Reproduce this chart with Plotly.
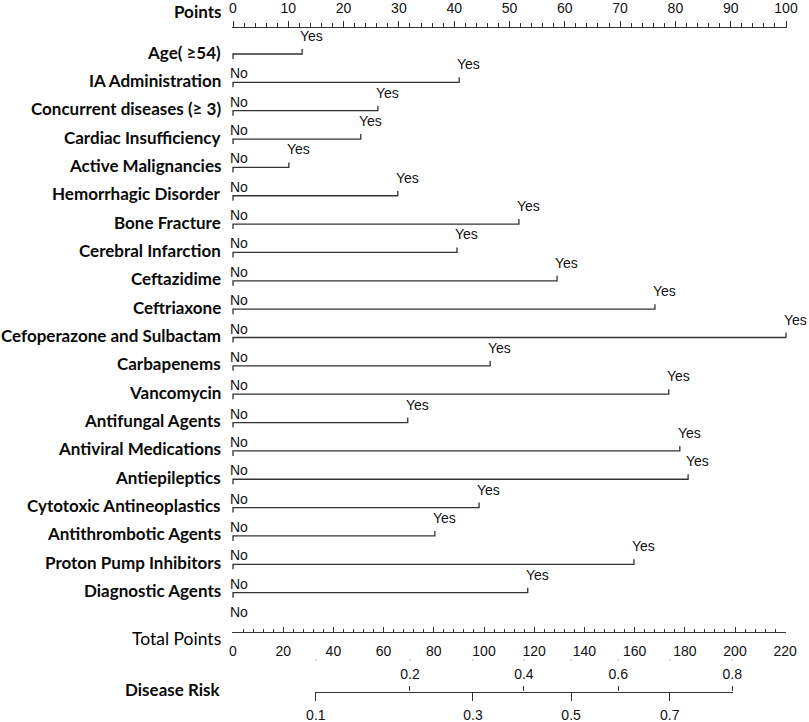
import plotly.graph_objects as go

# ---------------- data ----------------
variables = ["Age( ≥54)", "IA Administration", "Concurrent diseases (≥ 3)", "Cardiac Insufficiency",
             "Active Malignancies", "Hemorrhagic Disorder", "Bone Fracture", "Cerebral Infarction",
             "Ceftazidime", "Ceftriaxone", "Cefoperazone and Sulbactam", "Carbapenems", "Vancomycin",
             "Antifungal Agents", "Antiviral Medications", "Antiepileptics", "Cytotoxic Antineoplastics",
             "Antithrombotic Agents", "Proton Pump Inhibitors", "Diagnostic Agents"]
yes_points = [12.5, 40.9, 26.2, 23.1, 10.1, 29.8, 51.7, 40.5, 58.6, 76.3, 100.0, 46.5, 78.8,
              31.6, 80.8, 82.3, 44.5, 36.5, 72.5, 53.3]
no_label, yes_label = "No", "Yes"

points_max = 100
points_major = 10
points_minor = 2
total_max = 220
total_major = 20
total_minor = 4
risk_labels = ["0.1", "0.2", "0.3", "0.4", "0.5", "0.6", "0.7", "0.8"]
risk_total_points = [33.0, 70.5, 95.6, 115.9, 134.7, 153.5, 174.0, 198.9]

# ---------------- geometry (pixels) ----------------
W, H = 809, 722
X0 = 233.0          # pixel of 0 points
PT = 5.53           # px per point
TP = 2.51           # px per total point
ROW0 = 54.0         # pixel of first row line
STEP = 28.35        # row spacing
LINE = "#333333"
NUMFONT = dict(family="Liberation Sans, Arial, sans-serif", size=14, color="#111")
LABFONT = dict(family="Lato, Noto Sans, sans-serif", size=17, color="#0a0a0a", weight="bold")

def paper_y(px):
    return 1 - px / H

n = len(variables)
y_range = [(H - ROW0) / STEP, -ROW0 / STEP]
tick_dn = 5 / STEP
tick_up = 5 / STEP

fig = go.Figure()

# row segments
xs, ys = [], []
for i, v in enumerate(yes_points):
    xs += [0, 0, v, v, None]
    ys += [i + tick_dn, i, i, i - tick_up, None]
fig.add_trace(go.Scatter(x=xs, y=ys, mode="lines", line=dict(color=LINE, width=1.3),
                         xaxis="x", yaxis="y", hoverinfo="skip", showlegend=False))

# faint marks below total points labels
fig.add_trace(go.Scatter(x=risk_total_points, y=[(660 - ROW0) / STEP] * len(risk_total_points),
                         mode="markers", marker=dict(size=2, color="#cfcfcf"),
                         xaxis="x2", yaxis="y", hoverinfo="skip", showlegend=False))
# anchor traces for risk axes
for ax in ["x3", "x4"]:
    fig.add_trace(go.Scatter(x=[risk_total_points[0]], y=[0], mode="markers",
                             marker=dict(opacity=0), xaxis=ax, yaxis="y",
                             hoverinfo="skip", showlegend=False))

ann = []
for i, (name, v) in enumerate(zip(variables, yes_points)):
    ann.append(dict(x=0, y=i, xref="x", yref="y", text=name, showarrow=False,
                    xanchor="right", yanchor="middle", xshift=-10, yshift=2, font=LABFONT))
    ann.append(dict(x=v, y=i, xref="x", yref="y", text=yes_label, showarrow=False,
                    xanchor="left", yanchor="middle", xshift=-4, yshift=18, font=NUMFONT))
for i in range(1, n + 1):
    ann.append(dict(x=0, y=i, xref="x", yref="y", text=no_label, showarrow=False,
                    xanchor="left", yanchor="middle", xshift=-5, yshift=9, font=NUMFONT))

ann.append(dict(x=0, y=paper_y(12), xref="x", yref="paper", text="Points", showarrow=False,
                xanchor="right", yanchor="middle", xshift=-10, font=LABFONT))
ann.append(dict(x=0, y=paper_y(638), xref="x", yref="paper", text="Total Points", showarrow=False,
                xanchor="right", yanchor="middle", xshift=-10,
                font=dict(family="Lato, Noto Sans, sans-serif", size=17.5, color="#000", weight="normal")))
ann.append(dict(x=0, y=paper_y(689), xref="x", yref="paper", text="Disease Risk", showarrow=False,
                xanchor="right", yanchor="middle", xshift=-10, font=LABFONT))

pad = 1.0
common = dict(showgrid=False, zeroline=False, showline=True, linecolor=LINE, linewidth=1.3,
              tickcolor=LINE, tickwidth=1.2, tickfont=NUMFONT, fixedrange=True, automargin=False)

lo, hi = X0 - pad, X0 + points_max * PT + pad
xaxis = dict(domain=[lo / W, hi / W], range=[-pad / PT, points_max + pad / PT],
             anchor="free", position=paper_y(27), side="top", ticks="outside", ticklen=6,
             tickmode="linear", tick0=0, dtick=points_major, ticklabelstandoff=2,
             minor=dict(ticks="outside", ticklen=3.5, tickmode="linear", tick0=0, dtick=points_minor,
                        tickcolor=LINE, tickwidth=1.1, showgrid=False), **common)

lo2, hi2 = X0 - pad, X0 + total_max * TP + pad
xaxis2 = dict(domain=[lo2 / W, hi2 / W], range=[-pad / TP, total_max + pad / TP],
              anchor="free", position=paper_y(632), side="bottom", ticks="inside", ticklen=5,
              tickmode="linear", tick0=0, dtick=total_major, ticklabelstandoff=6,
              minor=dict(ticks="inside", ticklen=3, tickmode="linear", tick0=0, dtick=total_minor,
                         tickcolor=LINE, tickwidth=1.1, showgrid=False), **common)

e = 0.3
r_lo = risk_total_points[0] - e
r_hi = risk_total_points[-1] + e
d3 = [(X0 + r_lo * TP) / W, (X0 + r_hi * TP) / W]
xaxis3 = dict(domain=d3, range=[r_lo, r_hi], anchor="free", position=paper_y(691.5), side="bottom",
              ticks="outside", ticklen=8, tickmode="array",
              tickvals=risk_total_points[0::2], ticktext=risk_labels[0::2], ticklabelstandoff=3, **common)
xaxis4 = dict(domain=d3, range=[r_lo, r_hi], anchor="free", position=paper_y(691.5), side="top",
              ticks="outside", ticklen=5, tickmode="array",
              tickvals=risk_total_points[1::2], ticktext=risk_labels[1::2], ticklabelstandoff=2, **common)

fig.update_layout(
    width=W, height=H, autosize=False,
    margin=dict(l=0, r=0, t=0, b=0, pad=0, autoexpand=False),
    paper_bgcolor="white", plot_bgcolor="rgba(0,0,0,0)",
    xaxis=xaxis, xaxis2=xaxis2, xaxis3=xaxis3, xaxis4=xaxis4,
    yaxis=dict(domain=[0, 1], range=y_range, visible=False, fixedrange=True, automargin=False),
    annotations=ann, showlegend=False,
)

fig.write_html("out.html", config={"displayModeBar": False},
               post_script="document.body.style.margin='0';document.body.style.padding='0';"
                           "document.body.style.overflow='hidden';"
                           "document.documentElement.style.overflow='hidden';")
